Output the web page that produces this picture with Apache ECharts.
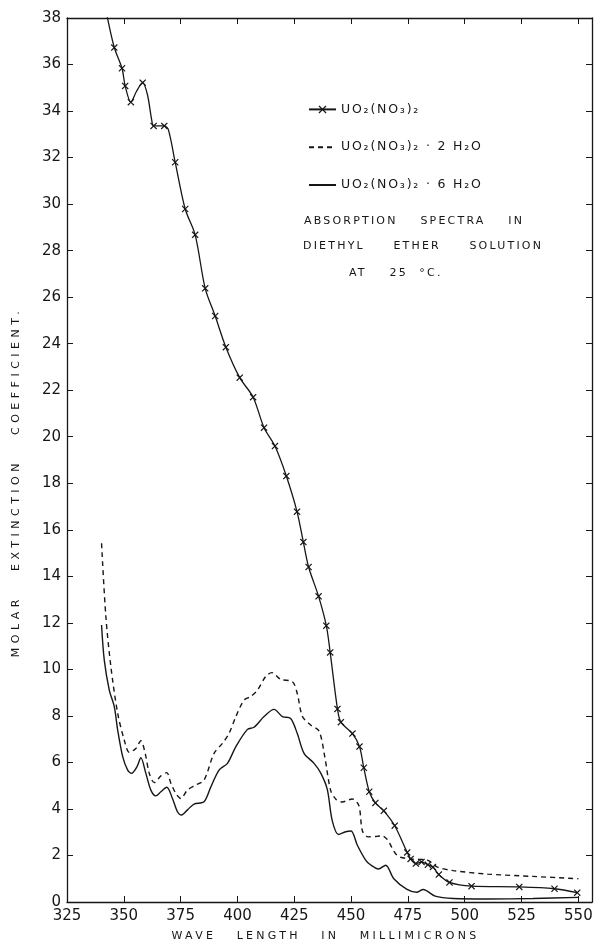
<!DOCTYPE html>
<html>
<head>
<meta charset="utf-8">
<script src="https://cdn.jsdelivr.net/npm/echarts/dist/echarts.min.js"></script>
<style>
html,body{margin:0;padding:0;background:#fff;}
#chart{width:595px;height:948px;}
</style>
</head>
<body>
<div id="chart"></div>
<script>
// letter spacing helper: a font family token "lsNN" means NN/10 px letter spacing
(function(){
  try {
    var P = CanvasRenderingContext2D.prototype;
    if (!('letterSpacing' in P)) return;
    function apply(ctx){ var m = /\bls(\d+)\b/.exec(ctx.font || ''); ctx.letterSpacing = m ? (m[1]/10) + 'px' : '0px'; }
    var f = P.fillText, s = P.strokeText, mt = P.measureText;
    P.fillText = function(){ apply(this); return f.apply(this, arguments); };
    P.strokeText = function(){ apply(this); return s.apply(this, arguments); };
    P.measureText = function(){ apply(this); return mt.apply(this, arguments); };
  } catch(e) {}
})();

// ---- data ----
const seriesNames = ['UO₂(NO₃)₂', 'UO₂(NO₃)₂ · 2 H₂O', 'UO₂(NO₃)₂ · 6 H₂O'];

// UO2(NO3)2 (line with x markers)
const uo2Wl  = [342.4,345.8,349.2,350.6,353.1,355.6,358.3,360.4,362.3,363.1,367.8,369.6,372.6,377.0,381.4,385.8,390.2,394.9,401.0,406.9,411.7,416.5,421.5,426.2,429.0,431.3,435.7,439.1,440.8,444.0,445.5,450.6,453.7,455.6,458.0,460.7,464.4,469.2,474.7,476.2,478.5,481.0,483.8,486.0,488.6,493.3,503.0,524.0,539.5,549.5];
const uo2Val = [38.2,36.73,35.84,35.08,34.38,34.85,35.22,34.7,33.6,33.36,33.36,33.2,31.8,29.79,28.68,26.38,25.19,23.85,22.54,21.70,20.39,19.60,18.31,16.78,15.47,14.40,13.14,11.88,10.73,8.30,7.73,7.24,6.68,5.77,4.74,4.26,3.92,3.28,2.13,1.85,1.65,1.72,1.60,1.50,1.18,0.84,0.68,0.65,0.57,0.40];
const uo2Mark = [0,1,1,1,1,0,1,0,0,1,1,0,1,1,1,1,1,1,1,1,1,1,1,1,1,1,1,1,1,1,1,1,1,1,1,1,1,1,1,1,1,1,1,1,1,1,1,1,1,1];

// UO2(NO3)2 . 2 H2O (dashed)
const di2Wl  = [340.2,342.1,344.3,347.3,350.2,352.4,355.3,357.5,359.4,361.2,363.4,366.3,368.9,370.7,372.9,375.1,378.0,381.7,385.3,389.7,393.4,396.3,399.3,402.9,405.8,408.8,412.4,415.1,419.0,424.2,426.3,428.6,432.2,435.9,438.5,441.0,443.5,446.1,450.5,453.4,455.0,457.5,461.5,463.5,465.9,470.3,476.1,483.5,488.0,495.0,510.0,530.0,550.0];
const di2Val = [15.42,12.27,10.12,8.11,6.96,6.43,6.60,6.93,6.39,5.53,5.13,5.42,5.56,5.10,4.67,4.45,4.81,5.03,5.24,6.39,6.82,7.25,7.97,8.68,8.83,9.11,9.69,9.86,9.57,9.47,8.97,7.97,7.61,7.35,6.20,4.80,4.40,4.30,4.43,4.15,3.05,2.80,2.82,2.85,2.69,2.00,1.85,1.80,1.50,1.35,1.20,1.10,1.00];

// UO2(NO3)2 . 6 H2O (solid)
const hex6Wl  = [340.2,341.4,343.6,345.8,347.3,349.5,351.7,353.4,355.8,357.5,359.7,361.9,364.1,366.3,368.9,371.4,373.6,375.4,378.0,380.9,385.3,388.3,391.9,395.6,399.3,404.4,407.3,411.7,416.1,419.8,423.4,426.3,429.3,433.7,436.6,439.5,441.7,444.5,447.6,450.0,452.7,456.4,458.5,462.0,465.2,468.8,474.6,478.8,481.7,487.0,495.0,510.0,530.0,550.0];
const hex6Val = [11.91,10.40,9.11,8.40,7.39,6.25,5.67,5.53,5.82,6.20,5.53,4.81,4.56,4.74,4.93,4.45,3.88,3.74,3.96,4.21,4.31,4.95,5.67,5.96,6.68,7.42,7.51,7.97,8.28,7.97,7.89,7.25,6.39,5.96,5.55,4.85,3.50,2.90,3.02,3.05,2.45,1.80,1.60,1.42,1.58,1.00,0.54,0.42,0.54,0.25,0.15,0.13,0.15,0.20];

const xMin = 325, xMax = 556, xStep = 25, xLastLabel = 550;
const yMin = 0, yMax = 38, yStep = 2;

const titleLines = ['ABSORPTION    SPECTRA    IN', 'DIETHYL     ETHER     SOLUTION', 'AT    25  °C.'];
const xName = 'WAVE   LENGTH   IN   MILLIMICRONS';
const yName = 'MOLAR   EXTINCTION   COEFFICIENT.';

// ---- chart ----
const INK = '#161616';
const XPATH = 'path://M0,1.2 L1.2,0 L5,3.8 L8.8,0 L10,1.2 L6.2,5 L10,8.8 L8.8,10 L5,6.2 L1.2,10 L0,8.8 L3.8,5 Z';
const tickFont = '"DejaVu Sans"';

const chart = echarts.init(document.getElementById('chart'), null, {renderer: 'canvas'});

const uo2Data = uo2Wl.map((w, i) => ({value: [w, uo2Val[i]], symbol: uo2Mark[i] ? XPATH : 'none'}));
const di2Data = di2Wl.map((w, i) => [w, di2Val[i]]);
const hex6Data = hex6Wl.map((w, i) => [w, hex6Val[i]]);

const axisLineStyle = {color: INK, width: 1.3};

const option = {
  animation: false,
  backgroundColor: '#fff',
  grid: {left: 67, right: 3, top: 18, bottom: 46, containLabel: false, outerBoundsMode: 'none'},
  legend: {
    data: [
      {name: seriesNames[0]},
      {name: seriesNames[1], itemStyle: {opacity: 0}},
      {name: seriesNames[2], itemStyle: {opacity: 0}}
    ],
    orient: 'vertical',
    left: 303,
    top: 97,
    itemWidth: 27,
    itemHeight: 10,
    itemGap: 23,
    textStyle: {fontFamily: '"DejaVu Sans", ls18', fontSize: 12.5, color: INK},
    inactiveColor: INK
  },
  xAxis: [{
    type: 'value', position: 'bottom', min: xMin, max: xMax, interval: xStep,
    axisLine: {show: true, lineStyle: axisLineStyle},
    axisTick: {show: true, inside: true, length: 6, lineStyle: {color: INK, width: 1}},
    axisLabel: {
      show: true, margin: 7, color: INK, fontFamily: tickFont, fontSize: 15,
      formatter: v => (v % xStep === 0 && v <= xLastLabel) ? String(v) : ''
    },
    splitLine: {show: false},
    name: xName, nameLocation: 'middle', nameGap: 27, nameMoveOverlap: false,
    nameTextStyle: {fontFamily: '"DejaVu Sans", ls33', fontSize: 11, color: INK, padding: [0, 8, 0, 0]}
  }, {
    type: 'value', position: 'top', min: xMin, max: xMax, interval: xStep,
    axisLine: {show: true, onZero: false, lineStyle: axisLineStyle},
    axisTick: {show: true, inside: true, length: 6, lineStyle: {color: INK, width: 1}},
    axisLabel: {show: false},
    splitLine: {show: false}
  }],
  yAxis: [{
    type: 'value', position: 'left', min: yMin, max: yMax, interval: yStep,
    axisLine: {show: true, onZero: false, lineStyle: axisLineStyle},
    axisTick: {show: true, inside: true, length: 6, lineStyle: {color: INK, width: 1}},
    axisLabel: {show: true, margin: 6, color: INK, fontFamily: tickFont, fontSize: 15},
    splitLine: {show: false},
    name: yName, nameLocation: 'middle', nameGap: 43, nameMoveOverlap: false,
    nameTextStyle: {fontFamily: '"DejaVu Sans", ls45', fontSize: 11, color: INK, padding: [0, 44, 0, 0]}
  }, {
    type: 'value', position: 'right', min: yMin, max: yMax, interval: yStep,
    axisLine: {show: true, onZero: false, lineStyle: axisLineStyle},
    axisTick: {show: true, inside: true, length: 6, lineStyle: {color: INK, width: 1}},
    axisLabel: {show: false},
    splitLine: {show: false}
  }],
  graphic: titleLines.map((t, i) => ({
    type: 'text',
    left: [304, 303, 349][i],
    top: [215, 240, 267][i],
    style: {text: t, font: '11px "DejaVu Sans", ls22', fill: INK}
  })),
  series: [{
    name: seriesNames[0], type: 'line', xAxisIndex: 0, yAxisIndex: 0,
    data: uo2Data, smooth: 0.3, symbol: XPATH, symbolSize: 7, showSymbol: true,
    lineStyle: {color: INK, width: 1.3},
    itemStyle: {color: INK},
    clip: true
  }, {
    name: seriesNames[1], type: 'line', xAxisIndex: 0, yAxisIndex: 0,
    data: di2Data, smooth: 0.3, symbol: 'none',
    lineStyle: {color: INK, width: 1.4, type: [5, 4]},
    itemStyle: {color: INK}
  }, {
    name: seriesNames[2], type: 'line', xAxisIndex: 0, yAxisIndex: 0,
    data: hex6Data, smooth: 0.3, symbol: 'none',
    lineStyle: {color: INK, width: 1.4},
    itemStyle: {color: INK}
  }]
};
chart.setOption(option);
</script>
</body>
</html>
